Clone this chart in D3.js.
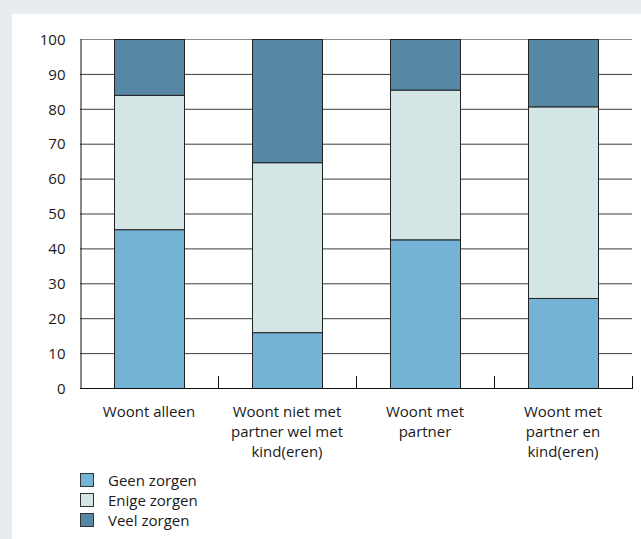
<!DOCTYPE html>
<html>
<head>
<meta charset="utf-8">
<script src="https://cdn.jsdelivr.net/npm/d3@7"></script>
<style>
  html, body { margin: 0; padding: 0; background: #e8ecef; }
  svg { display: block; }
  text { font-family: "Open Sans", "Noto Sans", sans-serif; fill: #1a1a1a; }
</style>
</head>
<body>
<script>
const categories = [
  ["Woont alleen"],
  ["Woont niet met", "partner wel met", "kind(eren)"],
  ["Woont met", "partner"],
  ["Woont met", "partner en", "kind(eren)"]
];
const seriesNames = ["Geen zorgen", "Enige zorgen", "Veel zorgen"];
const geenZorgen = [45.5, 16.0, 42.6, 25.8];
const enigeZorgen = [38.5, 48.7, 42.9, 54.9];
const veelZorgen = [16.0, 35.3, 14.5, 19.3];
const yTicks = [0, 10, 20, 30, 40, 50, 60, 70, 80, 90, 100];
const colors = ["#74b3d5", "#d3e6e5", "#5687a5"];

(function () {
const W = 641, H = 539;
const svg = d3.select("body").append("svg").attr("width", W).attr("height", H);
svg.append("rect").attr("x", 0).attr("y", 0).attr("width", W).attr("height", H).attr("fill", "#e8ecef");
svg.append("rect").attr("x", 12).attr("y", 14).attr("width", W - 12).attr("height", H - 14).attr("fill", "#ffffff");

const pLeft = 80, pRight = 632, pTop = 39, pBottom = 388;
const x = d3.scaleBand().domain(d3.range(categories.length)).range([pLeft, pRight]).paddingInner(0).paddingOuter(0);
const y = d3.scaleLinear().domain([0, 100]).range([pBottom, pTop]);
const barW = 70;

// gridlines
svg.append("g").selectAll("line").data(yTicks.filter(d => d > 0)).join("line")
  .attr("x1", pLeft).attr("x2", pRight)
  .attr("y1", d => y(d) + 0.5).attr("y2", d => y(d) + 0.5)
  .attr("stroke", d => d === 100 ? "#8a8a8a" : "#3a3a3a").attr("stroke-width", 1);

// stacked bars
const table = categories.map((c, i) => ({ i, g: geenZorgen[i], e: enigeZorgen[i], v: veelZorgen[i] }));
const stack = d3.stack().keys(["g", "e", "v"])(table);
stack.forEach((layer, k) => {
  svg.append("g").selectAll("rect").data(layer).join("rect")
    .attr("x", d => x(d.data.i) + x.bandwidth() / 2 - barW / 2 + 0.5)
    .attr("y", d => y(d[1]) + 0.5)
    .attr("width", barW)
    .attr("height", d => y(d[0]) - y(d[1]))
    .attr("fill", colors[k])
    .attr("stroke", "#222")
    .attr("stroke-width", 1);
});

// y axis
const yAxis = d3.axisLeft(y).tickValues(yTicks).tickSize(0).tickPadding(15);
const yg = svg.append("g").attr("transform", `translate(${pLeft + 0.5},0)`).call(yAxis);
yg.select(".domain").attr("stroke", "#111");
yg.selectAll("text").style("font-size", "15px").style("font-family", "'Open Sans', sans-serif").attr("fill", "#1a1a1a").attr("dy", "0.35em");

// x axis baseline and ticks
svg.append("line").attr("x1", pLeft).attr("x2", pRight + 1).attr("y1", pBottom + 0.5).attr("y2", pBottom + 0.5).attr("stroke", "#111");
svg.append("g").selectAll("line").data(d3.range(1, categories.length + 1)).join("line")
  .attr("x1", d => x.step() * d + pLeft + 0.5).attr("x2", d => x.step() * d + pLeft + 0.5)
  .attr("y1", pBottom - 12).attr("y2", pBottom).attr("stroke", "#111");

// category labels
const labG = svg.append("g");
categories.forEach((lines, i) => {
  const t = labG.append("text").attr("text-anchor", "middle").style("font-size", "15px");
  lines.forEach((ln, j) => {
    t.append("tspan").attr("x", x(i) + x.bandwidth() / 2).attr("y", 417 + j * 20).text(ln);
  });
});

// legend
const lg = svg.append("g");
seriesNames.forEach((name, k) => {
  lg.append("rect").attr("x", 80.5).attr("y", 473.5 + k * 20).attr("width", 13).attr("height", 13)
    .attr("fill", colors[k]).attr("stroke", "#333").attr("stroke-width", 1);
  lg.append("text").attr("x", 108).attr("y", 485.5 + k * 20).style("font-size", "15px").text(name);
});
})();
</script>
</body>
</html>
